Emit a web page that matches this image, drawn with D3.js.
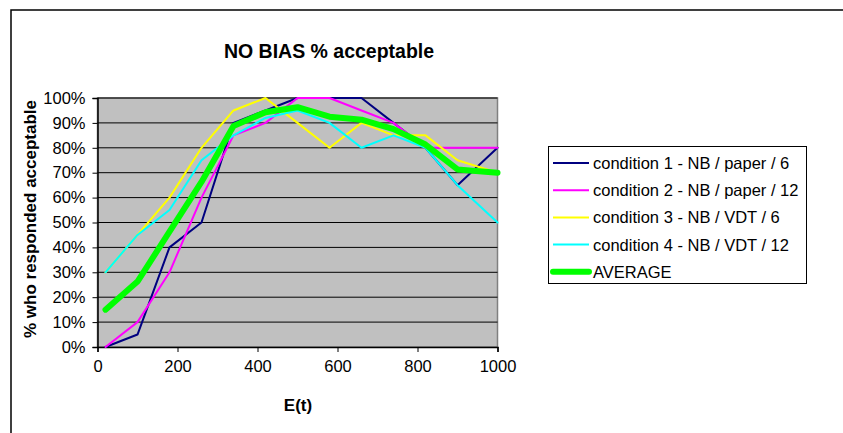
<!DOCTYPE html>
<html>
<head>
<meta charset="utf-8">
<script src="https://cdn.jsdelivr.net/npm/d3@7"></script>
<style>
  body { margin: 0; background: #fff; }
  svg { display: block; font-family: "Liberation Sans", Arial, sans-serif; }
</style>
</head>
<body>
<div id="chart"></div>
<script>
// E(t) values on the x axis
const xValues = [20, 100, 180, 260, 340, 420, 500, 580, 660, 740, 820, 900, 1000]

// % acceptable per condition
const cond1 = [0, 5, 40, 50, 90, 95, 100, 100, 100, 90, 80, 65, 80]
const cond2 = [0, 10, 30, 60, 85, 90, 100, 100, 95, 90, 80, 80, 80]
const cond3 = [30, 45, 60, 80, 95, 100, 90, 80, 90, 85, 85, 75, 70]
const cond4 = [30, 45, 55, 75, 85, 92, 95, 90, 80, 85, 80, 65, 50]
const average = [15, 26.3, 46.3, 66.3, 88.8, 94.3, 96.3, 92.5, 91.3, 87.5, 81.3, 71.3, 70]

const seriesNames = [
  "condition 1 - NB / paper / 6",
  "condition 2 - NB / paper / 12",
  "condition 3 - NB / VDT / 6",
  "condition 4 - NB / VDT / 12",
  "AVERAGE"
]
const seriesColors = ["#000080", "#ff00ff", "#ffff00", "#00ffff", "#00ff00"]
const seriesWidths = [2, 2, 2, 2, 6]

const xTicks = [0, 200, 400, 600, 800, 1000]
const yTicks = [0, 10, 20, 30, 40, 50, 60, 70, 80, 90, 100]

const width = 843, height = 433
const plot = { left: 97.5, right: 497.5, top: 98, bottom: 347 }

const svg = d3.select("#chart").append("svg")
  .attr("width", width)
  .attr("height", height)

// outer chart frame (runs off the right/bottom edge in the picture)
svg.append("rect")
  .attr("x", 11).attr("y", 10)
  .attr("width", 840).attr("height", 440)
  .attr("fill", "#fff")
  .attr("stroke", "#000")
  .attr("stroke-width", 1.5)

const xScale = d3.scaleLinear().domain([0, 1000]).range([plot.left, plot.right])
const yScale = d3.scaleLinear().domain([0, 100]).range([plot.bottom, plot.top])

// plot area
svg.append("rect")
  .attr("x", plot.left).attr("y", plot.top)
  .attr("width", plot.right - plot.left).attr("height", plot.bottom - plot.top)
  .attr("fill", "#c0c0c0")
  .attr("stroke", "#808080")
  .attr("stroke-width", 1.5)

// gridlines
svg.append("g")
  .selectAll("line")
  .data(yTicks.filter(d => d > 0))
  .join("line")
  .attr("x1", plot.left).attr("x2", plot.right)
  .attr("y1", d => yScale(d)).attr("y2", d => yScale(d))
  .attr("stroke", "#000")
  .attr("stroke-width", 1)

// axes
const xAxis = d3.axisBottom(xScale).tickValues(xTicks).tickSize(5).tickPadding(8)
  .tickFormat(d3.format("d"))
const yAxis = d3.axisLeft(yScale).tickValues(yTicks).tickSize(5).tickPadding(7)
  .tickFormat(d => d + "%")

const gx = svg.append("g")
  .attr("transform", `translate(0,${plot.bottom})`)
  .call(xAxis)
const gy = svg.append("g")
  .attr("transform", `translate(${plot.left},0)`)
  .call(yAxis)

for (const g of [gx, gy]) {
  g.select(".domain").attr("stroke", "#000").attr("stroke-width", 1.5)
  g.selectAll(".tick line").attr("stroke", "#000").attr("stroke-width", 1)
  g.selectAll(".tick text")
    .attr("fill", "#000")
    .attr("font-size", 16.5)
    .attr("font-family", "Liberation Sans, Arial, sans-serif")
}

// lines
const allSeries = [cond1, cond2, cond3, cond4, average]
const line = d3.line()
  .x((d, i) => xScale(xValues[i]))
  .y(d => yScale(d))

svg.append("g")
  .selectAll("path")
  .data(allSeries)
  .join("path")
  .attr("d", d => line(d))
  .attr("fill", "none")
  .attr("stroke", (d, i) => seriesColors[i])
  .attr("stroke-width", (d, i) => seriesWidths[i])
  .attr("stroke-linejoin", "round")
  .attr("stroke-linecap", "round")

// title
svg.append("text")
  .attr("x", 329).attr("y", 58)
  .attr("text-anchor", "middle")
  .attr("font-size", 19.5)
  .attr("font-weight", "bold")
  .text("NO BIAS % acceptable")

// axis titles
svg.append("text")
  .attr("x", 298).attr("y", 411)
  .attr("text-anchor", "middle")
  .attr("font-size", 17)
  .attr("font-weight", "bold")
  .text("E(t)")

svg.append("text")
  .attr("transform", "translate(36,219) rotate(-90)")
  .attr("text-anchor", "middle")
  .attr("font-size", 17)
  .attr("font-weight", "bold")
  .text("% who responded acceptable")

// legend
const legend = svg.append("g")
legend.append("rect")
  .attr("x", 548.5).attr("y", 146.5)
  .attr("width", 258).attr("height", 137)
  .attr("fill", "#fff")
  .attr("stroke", "#000")
  .attr("stroke-width", 1)

const rows = legend.selectAll("g")
  .data(seriesNames)
  .join("g")
  .attr("transform", (d, i) => `translate(553,${163 + i * 27.2})`)

rows.append("line")
  .attr("x1", 0).attr("x2", 36)
  .attr("stroke", (d, i) => seriesColors[i])
  .attr("stroke-width", (d, i) => seriesWidths[i])
  .attr("stroke-linecap", (d, i) => i === 4 ? "round" : "butt")

rows.append("text")
  .attr("x", 40).attr("y", 6)
  .attr("font-size", 16.5)
  .text(d => d)
</script>
</body>
</html>
